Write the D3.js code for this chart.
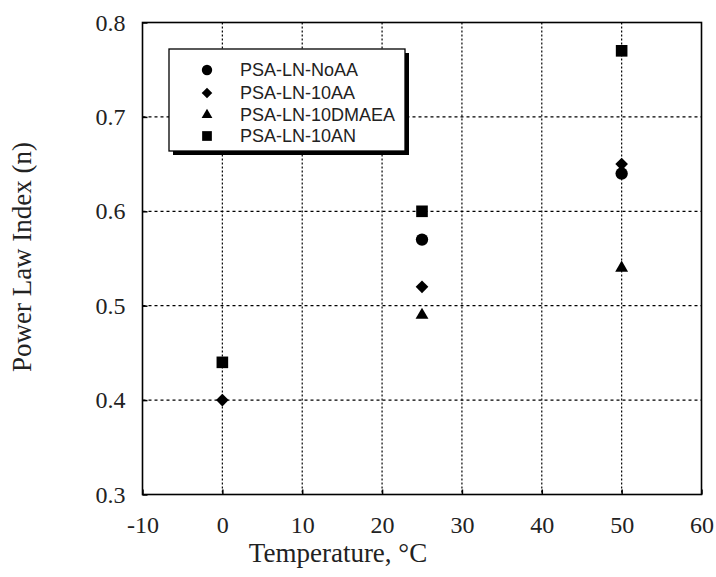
<!DOCTYPE html>
<html><head><meta charset="utf-8">
<script src="https://cdn.jsdelivr.net/npm/d3@7"></script>
<style>body{margin:0;background:#fff}svg{display:block}</style>
</head><body>
<svg id="c" width="716" height="577"></svg>
<script>
const seriesNames = ["PSA-LN-NoAA","PSA-LN-10AA","PSA-LN-10DMAEA","PSA-LN-10AN"];
const seriesShapes = ["circle","diamond","triangle","square"];
const tempNoAA = [25, 50];
const nNoAA = [0.57, 0.64];
const temp10AA = [0, 25, 50];
const n10AA = [0.40, 0.52, 0.65];
const temp10DMAEA = [25, 50];
const n10DMAEA = [0.49, 0.54];
const temp10AN = [0, 25, 50];
const n10AN = [0.44, 0.60, 0.77];
const xTicks = [-10, 0, 10, 20, 30, 40, 50, 60];
const yTicks = [0.3, 0.4, 0.5, 0.6, 0.7, 0.8];

const series = [
  {name: seriesNames[0], shape: seriesShapes[0], x: tempNoAA, y: nNoAA},
  {name: seriesNames[1], shape: seriesShapes[1], x: temp10AA, y: n10AA},
  {name: seriesNames[2], shape: seriesShapes[2], x: temp10DMAEA, y: n10DMAEA},
  {name: seriesNames[3], shape: seriesShapes[3], x: temp10AN, y: n10AN}
];

const svg = d3.select("#c");
const L = 142.5, R = 701.5, T = 22.5, B = 494.5;
const x = d3.scaleLinear().domain([-10, 60]).range([L, R]);
const y = d3.scaleLinear().domain([0.3, 0.8]).range([B, T]);
const serif = "Liberation Serif, Times New Roman, serif";

const diamond = {draw(ctx, size) { const r = Math.sqrt(size / 2); ctx.moveTo(0, -r); ctx.lineTo(r, 0); ctx.lineTo(0, r); ctx.lineTo(-r, 0); ctx.closePath(); }};
const symType = {circle: d3.symbolCircle, diamond: diamond, triangle: d3.symbolTriangle, square: d3.symbolSquare};
const symSize = {circle: 120, diamond: 80, triangle: 72, square: 135};
function sym(s, scale) { return d3.symbol().type(symType[s]).size(symSize[s] * (scale || 1))(); }

// grid
const grid = svg.append("g");
xTicks.slice(1, -1).forEach(t => {
  grid.append("line").attr("x1", x(t)).attr("x2", x(t)).attr("y1", T).attr("y2", B)
    .attr("stroke", "#000").attr("stroke-width", 1.2).attr("stroke-dasharray", "2,2");
});
yTicks.slice(1, -1).forEach(t => {
  grid.append("line").attr("x1", L).attr("x2", R).attr("y1", y(t)).attr("y2", y(t))
    .attr("stroke", "#000").attr("stroke-width", 1.2).attr("stroke-dasharray", "3,3");
});

// axes (inner ticks)
const xAxis = d3.axisBottom(x).tickValues(xTicks).tickSize(-5).tickPadding(21).tickFormat(d => String(d));
const gx = svg.append("g").attr("transform", `translate(0,${B})`).call(xAxis);
const yAxis = d3.axisLeft(y).tickValues(yTicks).tickSize(-5).tickPadding(17).tickFormat(d => d.toFixed(1));
const gy = svg.append("g").attr("transform", `translate(${L},0)`).call(yAxis);
[gx, gy].forEach(g => {
  g.select(".domain").remove();
  g.selectAll("line").attr("stroke", "#000").attr("stroke-width", 1.5);
  g.selectAll("text").attr("font-family", serif).attr("font-size", 24).attr("fill", "#222");
});
gx.selectAll("text").attr("dy", "0.71em");

// frame
svg.append("rect").attr("x", L).attr("y", T).attr("width", R - L).attr("height", B - T)
  .attr("fill", "none").attr("stroke", "#000").attr("stroke-width", 1.6);

// data points
series.forEach(s => {
  svg.append("g").selectAll("path").data(s.x.map((v, i) => [v, s.y[i]])).join("path")
    .attr("d", sym(s.shape))
    .attr("transform", d => `translate(${x(d[0])},${y(d[1])})`)
    .attr("fill", "#000");
});

// axis titles
svg.append("text").attr("x", 338).attr("y", 562).attr("text-anchor", "middle")
  .attr("font-family", serif).attr("font-size", 27).attr("fill", "#222")
  .text("Temperature, °C");
svg.append("text").attr("transform", "translate(31,257) rotate(-90)").attr("text-anchor", "middle")
  .attr("font-family", serif).attr("font-size", 27).attr("fill", "#222")
  .text("Power Law Index (n)");

// legend
const lg = svg.append("g");
lg.append("rect").attr("x", 173).attr("y", 53).attr("width", 236).attr("height", 102).attr("fill", "#000");
lg.append("rect").attr("x", 169).attr("y", 49).attr("width", 236).attr("height", 102)
  .attr("fill", "#fff").attr("stroke", "#000").attr("stroke-width", 1.3);
const rowY = [70, 93, 115, 136];
series.forEach((s, i) => {
  lg.append("path").attr("d", sym(s.shape, 0.7)).attr("transform", `translate(207,${rowY[i]})`).attr("fill", "#000");
  lg.append("text").attr("x", 240).attr("y", rowY[i]).attr("dy", "0.35em")
    .attr("font-family", "Liberation Sans, Arial, sans-serif").attr("font-size", 18).attr("fill", "#222")
    .text(s.name);
});
</script>
</body></html>
